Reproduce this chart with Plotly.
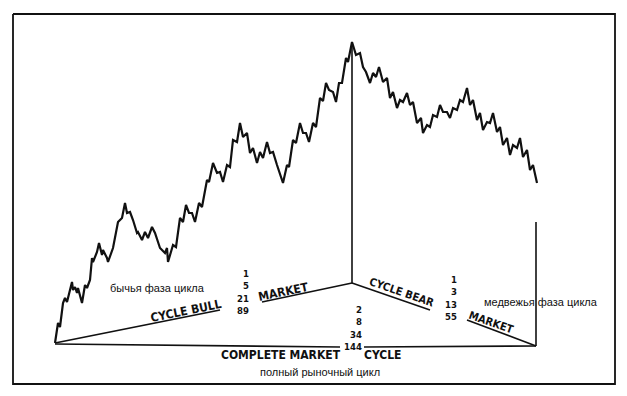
import plotly.graph_objects as go

# Price path (Elliott complete market cycle) (pixel-like units)
wave_x = [55,58,60,63,65,67,72,73,75,77,78,82,85,87,90,92,93,97,99,102,103,107,108,112,113,118,122,125,127,130,133,137,138,142,145,148,152,155,160,165,167,168,
          173,176,180,183,186,189,192,195,199,202,207,209,213,217,220,223,227,230,233,237,240,243,247,250,253,257,260,263,267,270,273,277,280,283,
          287,289,293,296,300,303,306,309,313,316,320,323,326,329,333,336,339,342,346,348,352,
          356,360,363,366,370,373,376,379,383,387,390,393,397,400,403,407,410,413,417,421,423,427,430,433,437,440,443,447,450,453,457,460,463,467,
          470,473,477,480,483,487,490,493,497,500,503,507,510,513,517,520,523,527,530,533,537]
wave_y = [343,323,327,303,298,302,282,290,287,293,288,303,285,288,280,258,262,252,243,255,250,258,262,250,248,222,218,203,213,212,220,233,232,240,232,238,227,233,248,253,248,262,
          245,247,218,222,205,213,213,222,203,207,180,182,163,173,172,182,165,167,140,142,123,137,133,153,148,163,152,158,142,153,152,165,173,183,
          165,167,140,143,123,133,133,142,123,127,98,101,83,90,92,102,83,83,58,62,42,
          55,53,67,72,83,73,77,67,82,78,98,92,108,100,102,93,105,102,123,118,133,125,127,115,117,105,112,112,118,108,110,100,102,88,
          105,100,120,113,130,122,123,113,132,127,145,138,155,145,148,138,157,150,170,165,183]

bull_counts = ["1", "5", "21", "89"]
bear_counts = ["1", "3", "13", "55"]
cycle_counts = ["2", "8", "34", "144"]

fig = go.Figure()

def seg(xs, ys, w=1.6):
    fig.add_trace(go.Scatter(x=xs, y=ys, mode="lines", line=dict(color="#111", width=w),
                             hoverinfo="skip", showlegend=False))

# frame
seg([13, 615, 615, 13, 13], [14, 14, 384, 384, 14], 1.8)
# wave
fig.add_trace(go.Scatter(x=wave_x, y=wave_y, mode="lines", line=dict(color="#111", width=2.2),
                         hoverinfo="skip", showlegend=False))
# peak vertical & end vertical
seg([352, 352], [42, 283], 1.6)
seg([536, 536], [222, 346], 1.6)
# base lines
seg([55, 340], [344, 347])
seg([364, 536], [347, 346])
# bull line (with gap)
seg([55, 220], [343, 310])
seg([262, 352], [302, 283])
# bear line (with gap)
seg([352, 430], [283, 310])
seg([467, 536], [320, 346])

ENG = "DejaVu Sans Condensed"
RUS = "Liberation Sans"

def txt(x, y, s, size=12, ang=0, font=ENG, bold=True, xa="center", align="center"):
    if bold:
        s = "<b>" + s + "</b>"
    fig.add_annotation(x=x, y=y, text=s, showarrow=False, textangle=ang, xanchor=xa, yanchor="middle",
                       align=align, borderpad=0,
                       font=dict(family=font, size=size, color="#111"))

txt(157, 288, "бычья фаза цикла", 11, font=RUS, bold=False)
txt(250, 292, "<br>".join(bull_counts), 9.5, xa="right", align="right")
txt(458, 298, "<br>".join(bear_counts), 9.5, xa="right", align="right")
txt(363, 328, "<br>".join(cycle_counts), 9.5, xa="right", align="right")

txt(186, 311, "CYCLE BULL", 12, ang=-11.5)
txt(283, 292, "MARKET", 12, ang=-11.5)
txt(402, 292, "CYCLE BEAR", 11, ang=19)
txt(491, 322, "MARKET", 11, ang=19)
txt(281, 355, "COMPLETE MARKET", 12)
txt(383, 355, "CYCLE", 12)
txt(541, 302, "медвежья фаза цикла", 11, font=RUS, bold=False)
txt(320, 372, "полный рыночный цикл", 11, font=RUS, bold=False)

fig.update_layout(width=627, height=396, margin=dict(l=0, r=0, t=0, b=0),
                  paper_bgcolor="white", plot_bgcolor="white",
                  xaxis=dict(range=[0, 627], visible=False, fixedrange=True),
                  yaxis=dict(range=[396, 0], visible=False, fixedrange=True))
fig.write_html("out.html")
